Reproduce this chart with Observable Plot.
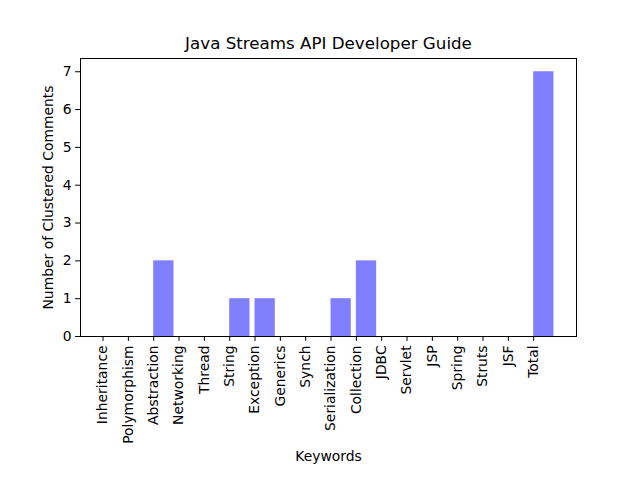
<!DOCTYPE html>
<html><head><meta charset="utf-8">
<script src="https://cdn.jsdelivr.net/npm/d3@7"></script>
<script src="https://cdn.jsdelivr.net/npm/@observablehq/plot@0.6"></script>
<style>body{margin:0;background:#fff;} svg{font-family:"DejaVu Sans",sans-serif;}</style>
</head><body>
<div id="chart"></div>
<script>
const keywords = ["Inheritance","Polymorphism","Abstraction","Networking","Thread","String","Exception","Generics","Synch","Serialization","Collection","JDBC","Servlet","JSP","Spring","Struts","JSF","Total"];
const counts = [0,0,2,0,0,1,1,0,0,1,2,0,0,0,0,0,0,7];
const yTicks = [0,1,2,3,4,5,6,7];
const title = "Java Streams API Developer Guide";

const data = keywords.map((k,i)=>({k, i, v: counts[i]}));
const barW = 0.8;
const n = keywords.length;
const pad = 0.05*((n-1)+barW);

const chart = Plot.plot({
  width: 640, height: 480,
  marginLeft: 80, marginRight: 64, marginTop: 58, marginBottom: 144,
  style: {fontFamily: '"DejaVu Sans", sans-serif', fontSize: "13.9px", color: "#000", background: "#fff"},
  x: {type: "linear", domain: [-pad, (n-1)+barW+pad]},
  y: {domain: [0, 7.35]},
  marks: [
    Plot.rectY(data, {x1: d=>d.i, x2: d=>d.i+barW, y1: 0, y2: "v", fill: "#8080ff", inset: 0}),
    Plot.frame({stroke: "#000", strokeWidth: 1}),
    Plot.axisX({ticks: d3.range(n), tickFormat: i => keywords[i], tickRotate: -90, tickSize: 4.9, tickPadding: 4, fontSize: 13.9, label: "Keywords", labelAnchor: "center", labelArrow: "none", labelOffset: 124}),
    Plot.axisY({ticks: yTicks, tickFormat: d3.format("d"), tickSize: 4.9, tickPadding: 4, fontSize: 13.9, label: "Number of Clustered Comments", labelAnchor: "center", labelArrow: "none", labelOffset: 37}),
    Plot.text([title], {text: d=>d, frameAnchor: "top", dy: -10, fontSize: 16.7, lineAnchor: "bottom"})
  ]
});
document.getElementById("chart").append(chart);
</script>
</body></html>
